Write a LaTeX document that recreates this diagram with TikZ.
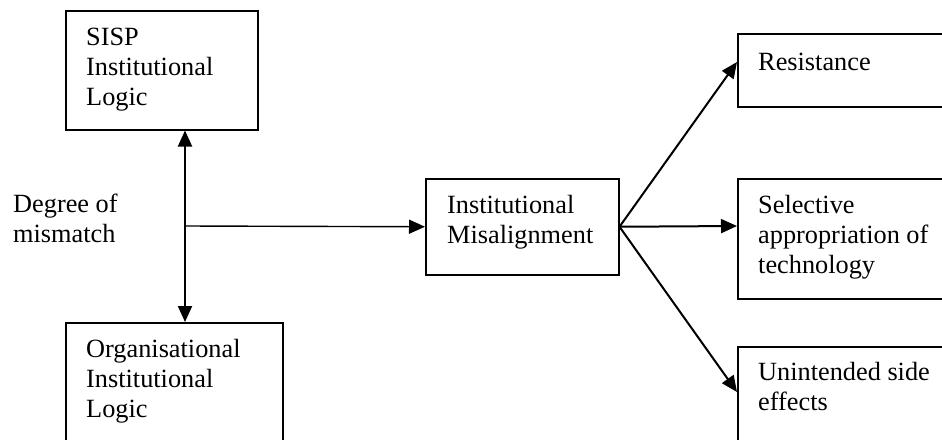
\documentclass[tikz,border=0pt]{standalone}
\usepackage{fontspec}
\setmainfont{Liberation Serif}
\usetikzlibrary{arrows.meta,calc}
\begin{document}
\begin{tikzpicture}[x=1pt,y=-1pt,
  box/.style={draw,line width=1.5pt,rectangle,inner sep=0pt,anchor=north west},
  % a multi-line node's base is the baseline of its last line
  txt/.style={inner sep=0pt,anchor=base west,align=left,font=\fontsize{26.3}{30}\selectfont},
  arr/.style={line width=2pt,-{Triangle[length=16pt,width=14pt]}},
]
\fill[white] (0,0) rectangle (942,439);
\useasboundingbox (0,0) rectangle (942,439);
\clip (0,0) rectangle (942,439);

% boxes
\node[box,minimum width=192pt,minimum height=119pt] (sisp) at (65,10) {};
\node[box,minimum width=217pt,minimum height=150pt] (org) at (65,322) {};
\node[box,minimum width=193pt,minimum height=96pt] (mis) at (425,178) {};
\node[box,minimum width=250pt,minimum height=73pt] (res) at (737,33) {};
\node[box,minimum width=250pt,minimum height=120pt] (sel) at (737,178) {};
\node[box,minimum width=250pt,minimum height=150pt] (uni) at (737,346) {};

% texts
\node[txt] (sispT) at (86,105) {SISP\\Institutional\\Logic};
\node[txt] (orgT) at (86,417) {Organisational\\Institutional\\Logic};
\node[txt] (misT) at (447,243) {Institutional\\Misalignment};
\node[txt] (resT) at (758,70) {Resistance};
\node[txt] (selT) at (758,273) {Selective\\appropriation of\\technology};
\node[txt] (uniT) at (758,410) {Unintended side\\effects};
\node[txt] (degT) at (13,242) {Degree of\\mismatch};

% connectors
\coordinate (hub) at (185,226);
\draw[line width=2pt,{Triangle[length=16pt,width=14pt]}-{Triangle[length=16pt,width=14pt]}]
  (hub |- sisp.south) -- (hub |- org.north);
\draw[line width=1.4pt,-{Triangle[length=16pt,width=14pt]}] (hub) -- (mis.west);
\draw[arr] (mis.east) -- ($(res.north west)+(0,29)$);
\draw[arr] (mis.east) -- ($(sel.north west)+(0,48)$);
\draw[arr] (mis.east) -- ($(uni.north west)+(0,46)$);
\end{tikzpicture}
\end{document}
